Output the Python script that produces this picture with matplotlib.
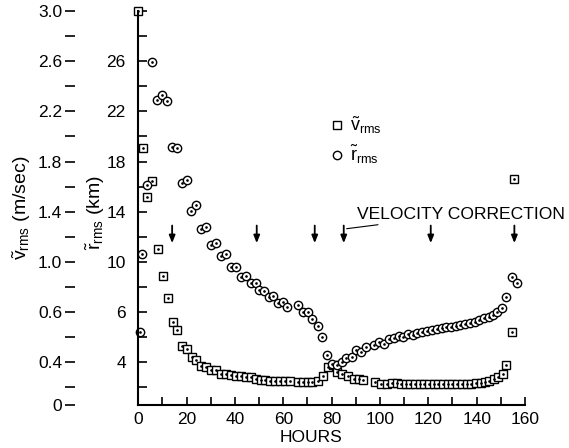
import matplotlib
matplotlib.use("Agg")
import matplotlib.pyplot as plt
import numpy as np

plt.rcParams['font.family'] = ['Liberation Sans', 'DejaVu Sans']
plt.rcParams['mathtext.fontset'] = 'custom'
plt.rcParams['mathtext.rm'] = 'Liberation Sans'
plt.rcParams['mathtext.it'] = 'Liberation Sans:italic'

# v_rms in m/sec (axis units), times in hours
v_hours = [0, 1.8, 3.7, 5.8, 8.0, 10.3, 12.2, 14.2, 16.1, 18.0, 20.0, 22.1, 23.9,
           25.9, 28.0, 30.1, 32.1, 34.2, 36.3, 38.3, 40.4, 42.4, 44.5, 46.5, 48.6,
           50.6, 52.4, 54.5, 56.6, 58.6, 60.7, 62.8, 65.9, 68.0, 70.1, 72.0, 74.2,
           76.5, 78.4, 80.4, 82.1, 84.4, 86.9, 89.2, 91.3, 93.1, 97.9, 100.4, 102.8,
           104.9, 106.9, 108.8, 110.7, 112.6, 114.6, 116.5, 118.4, 120.4, 122.3,
           124.2, 126.2, 128.1, 130.0, 132.0, 133.9, 135.8, 137.8, 139.7, 141.6,
           143.5, 145.2, 147.2, 149.0, 150.8, 152.1, 154.5, 155.4]
v_rms = [3.00, 1.91, 1.52, 1.645, 1.10, 0.89, 0.71, 0.52, 0.46, 0.33, 0.31, 0.24, 0.22,
         0.17, 0.16, 0.14, 0.14, 0.11, 0.11, 0.10, 0.09, 0.09, 0.08, 0.08, 0.07,
         0.06, 0.06, 0.055, 0.055, 0.05, 0.05, 0.05, 0.04, 0.04, 0.04, 0.045, 0.05,
         0.09, 0.16, 0.18, 0.12, 0.105, 0.095, 0.07, 0.07, 0.06, 0.04, 0.03, 0.03,
         0.035, 0.035, 0.03, 0.03, 0.03, 0.027, 0.027, 0.03, 0.03, 0.03,
         0.03, 0.03, 0.03, 0.03, 0.03, 0.03, 0.03, 0.03, 0.035, 0.035,
         0.04, 0.05, 0.065, 0.08, 0.11, 0.18, 0.44, 1.66]

# r_rms in km (inner axis units)
r_hours = [0.5, 1.7, 3.5, 5.8, 7.6, 9.7, 12.0, 14.1, 15.9, 18.0, 20.0, 21.8, 23.9,
           25.9, 27.9, 30.1, 32.0, 34.2, 36.2, 38.4, 40.3, 42.5, 44.6, 46.6, 48.6,
           50.0, 52.1, 54.1, 55.9, 57.9, 59.7, 61.6, 65.9, 68.3, 70.3, 72.0, 74.2,
           76.1, 77.9, 80.3, 82.1, 84.2, 85.9, 88.3, 90.1, 92.1, 94.1, 97.6, 99.6,
           101.8, 103.7, 105.9, 108.0, 109.6, 111.7, 113.5, 115.4, 117.5, 119.3,
           121.4, 123.5, 125.5, 127.3, 129.2, 131.3, 133.1, 135.2, 137.2, 139.3,
           141.1, 143.0, 145.1, 146.9, 148.5, 150.4, 152.1, 154.5, 156.6]
r_rms = [4.45, 10.6, 16.1, 25.9, 22.9, 23.3, 22.8, 19.2, 19.1, 16.3, 16.5, 14.1, 14.5,
         12.6, 12.8, 11.35, 11.55, 10.5, 10.6, 9.6, 9.6, 8.8, 8.9, 8.3, 8.35,
         7.75, 7.7, 7.2, 7.3, 6.7, 6.8, 6.4, 6.55, 6.0, 6.0, 5.45, 4.9,
         4.05, 2.55, 1.85, 1.8, 2.0, 2.35, 2.45, 2.95, 2.8, 3.2, 3.35, 3.6,
         3.45, 3.85, 3.9, 4.1, 4.05, 4.25, 4.2, 4.3, 4.4, 4.5,
         4.6, 4.65, 4.7, 4.8, 4.85, 4.9, 5.0, 5.05, 5.15, 5.25,
         5.4, 5.5, 5.65, 5.8, 6.05, 6.3, 7.2, 8.8, 8.35]

correction_hours = [14, 49, 73, 85, 121, 155.6]

outer_ticks = [-0.14] + [round(0.2 * k, 1) for k in range(16)]
outer_labels = {-0.14: '0', 0.2: '0.4', 0.6: '0.6', 1.0: '1.0', 1.4: '1.4',
                1.8: '1.8', 2.2: '2.2', 2.6: '2.6', 3.0: '3.0'}
inner_ticks = [round(0.2 * k, 1) for k in range(16)]
inner_labels = {0.2: '4', 0.6: '6', 1.0: '10', 1.4: '14', 1.8: '18', 2.2: '22', 2.6: '26'}

W, H = 569, 448
fig = plt.figure(figsize=(W / 100, H / 100), dpi=100)
ax = fig.add_axes([138.3 / W, 43 / H, (525 - 138.3) / W, (405 - 11) / H])

ax.plot(v_hours, v_rms, ls='none', marker='s', ms=5.6, mfc='white', mec='black',
        mew=1.0, clip_on=False, label=r'$\tilde{\mathrm{v}}_{\mathrm{rms}}$')
ax.plot(v_hours, v_rms, ls='none', marker='.', ms=1.8, color='black', clip_on=False)
r_axis = np.array(r_rms) / 10.0
ax.plot(r_hours, r_axis, ls='none', marker='o', ms=6.0, mfc='white', mec='black',
        mew=1.0, clip_on=False, label=r'$\tilde{\mathrm{r}}_{\mathrm{rms}}$')
ax.plot(r_hours, r_axis, ls='none', marker='.', ms=1.8, color='black', clip_on=False)

for t in correction_hours:
    ax.annotate('', xy=(t, 1.15), xytext=(t, 1.29),
                arrowprops=dict(arrowstyle='-|>,head_length=0.45,head_width=0.18',
                                color='black', lw=1.3, shrinkA=0, shrinkB=0))
ax.annotate('VELOCITY CORRECTION', xy=(86.2, 1.265), xytext=(90.3, 1.38),
            fontsize=12.6, ha='left', va='center',
            arrowprops=dict(arrowstyle='-', color='black', lw=0.8,
                            shrinkA=1, shrinkB=0))

ax.set_xlim(0, 160)
ax.set_ylim(-0.14, 3.0)
for s in ['top', 'right']:
    ax.spines[s].set_visible(False)
for s in ['left', 'bottom']:
    ax.spines[s].set_linewidth(1.5)

ax.set_xticks(range(0, 161, 10))
ax.set_xticklabels([str(t) if t % 20 == 0 else '' for t in range(0, 161, 10)])
ax.set_yticks(inner_ticks)
ax.set_yticklabels([inner_labels.get(t, '') for t in inner_ticks])
ax.tick_params(axis='x', direction='in', length=6, width=1.2, pad=5, labelsize=12.5)
ax.tick_params(axis='y', direction='in', length=6.5, width=1.2, pad=9, labelsize=12.5)

ax2 = ax.twinx()
ax2.set_ylim(ax.get_ylim())
ax2.yaxis.tick_left()
ax2.spines['left'].set_position(('outward', (138.3 - 70) * 0.72))
for s in ax2.spines.values():
    s.set_visible(False)
ax2.set_yticks(outer_ticks)
ax2.set_yticklabels([outer_labels.get(t, '') for t in outer_ticks])
ax2.tick_params(axis='y', direction='inout', length=7.2, width=1.2, pad=2, labelsize=12.5)

ax.legend(loc='upper left', bbox_to_anchor=(331 / W, (H - 115) / H),
          bbox_transform=fig.transFigure, frameon=False, fontsize=13,
          handlelength=0.7, handletextpad=0.35, borderpad=0, borderaxespad=0,
          labelspacing=0.4, markerscale=1.0)

fig.text(22 / W, 1 - 208 / H, r'$\tilde{\mathrm{v}}_{\mathrm{rms}}$ (m/sec)',
         rotation=90, ha='center', va='center', fontsize=14)
fig.text(95 / W, 1 - 212 / H, r'$\tilde{\mathrm{r}}_{\mathrm{rms}}$ (km)',
         rotation=90, ha='center', va='center', fontsize=14)
fig.text(311 / W, 1 - 437 / H, 'HOURS', ha='center', va='center', fontsize=12.5)

fig.savefig('out.png', dpi=100)
